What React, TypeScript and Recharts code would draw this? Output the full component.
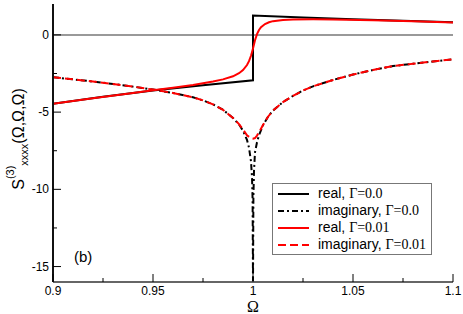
import { LineChart, Line, XAxis, YAxis, ReferenceLine, Legend } from "recharts";

// tick values
const xTicks = [0.9, 0.925, 0.95, 0.975, 1, 1.025, 1.05, 1.075, 1.1];
const xLabeled = [0.9, 0.95, 1, 1.05, 1.1];
const yTicks = [-15, -12.5, -10, -7.5, -5, -2.5, 0];
const yLabeled = [-15, -10, -5, 0];

// real part, Gamma = 0.0
const realG0X = [0.9, 0.925, 0.95, 0.975, 1, 1, 1.025, 1.05, 1.075, 1.1];
const realG0Y = [-4.46, -4.0, -3.6, -3.26, -2.94, 1.25, 1.12, 1.02, 0.91, 0.82];

// imaginary part, Gamma = 0.0
const imagG0X = [
  0.9, 0.91, 0.92, 0.93, 0.94, 0.95, 0.96, 0.97, 0.975, 0.98, 0.985, 0.99, 0.993, 0.995, 0.997, 0.998, 0.999,
  0.9995, 0.9998, 1, 1, 1.0002, 1.0005, 1.001, 1.002, 1.003, 1.005, 1.0075, 1.01, 1.015, 1.02, 1.025, 1.03,
  1.04, 1.05, 1.06, 1.07, 1.08, 1.09, 1.1,
];
const imagG0Y = [
  -2.74, -2.88, -3.02, -3.18, -3.35, -3.54, -3.76, -4.04, -4.24, -4.5, -4.85, -5.38, -5.8, -6.2, -6.8, -7.3, -8.2,
  -9.2, -10.7, -16, -16, -10.5, -8.8, -7.6, -6.95, -6.5, -5.85, -5.3, -4.9, -4.35, -3.95, -3.6, -3.33,
  -2.92, -2.57, -2.27, -2.02, -1.87, -1.72, -1.58,
];

// real part, Gamma = 0.01
const realG1X = [
  0.9, 0.92, 0.94, 0.95, 0.96, 0.97, 0.98, 0.985, 0.99, 0.993, 0.995, 0.997, 0.998, 0.999, 1, 1.001, 1.002,
  1.003, 1.004, 1.006, 1.008, 1.01, 1.015, 1.02, 1.03, 1.04, 1.06, 1.08, 1.1,
];
const realG1Y = [
  -4.46, -4.1, -3.76, -3.58, -3.42, -3.24, -3.02, -2.88, -2.68, -2.48, -2.28, -1.95, -1.7, -1.35, -0.88, -0.35, 0.05,
  0.32, 0.5, 0.7, 0.82, 0.89, 0.97, 1.0, 1.01, 1.0, 0.95, 0.88, 0.8,
];

// imaginary part, Gamma = 0.01
const imagG1X = [
  0.9, 0.91, 0.92, 0.93, 0.94, 0.95, 0.96, 0.97, 0.975, 0.98, 0.985, 0.99, 0.993, 0.995, 0.997, 0.999, 1, 1.001,
  1.002, 1.003, 1.005, 1.0075, 1.01, 1.015, 1.02, 1.025, 1.03, 1.04, 1.05, 1.06, 1.07, 1.08, 1.09, 1.1,
];
const imagG1Y = [
  -2.74, -2.88, -3.02, -3.18, -3.35, -3.54, -3.76, -4.04, -4.24, -4.5, -4.85, -5.38, -5.78, -6.12, -6.5, -6.7, -6.72,
  -6.68, -6.52, -6.3, -5.84, -5.3, -4.9, -4.35, -3.95, -3.6, -3.33, -2.92, -2.57, -2.27, -2.02, -1.87, -1.72, -1.58,
];

const zip = (xs: number[], ys: number[]) => xs.map((x, i) => ({ x, y: ys[i] }));

const series = [
  { key: "re0", label: "real, ", gamma: "Γ=0.0", data: zip(realG0X, realG0Y), color: "#000000", dash: undefined },
  { key: "im0", label: "imaginary, ", gamma: "Γ=0.0", data: zip(imagG0X, imagG0Y), color: "#000000", dash: "6 3 2 3" },
  { key: "re1", label: "real, ", gamma: "Γ=0.01", data: zip(realG1X, realG1Y), color: "#ff0000", dash: undefined },
  { key: "im1", label: "imaginary, ", gamma: "Γ=0.01", data: zip(imagG1X, imagG1Y), color: "#ff0000", dash: "8 4" },
];

const sans = "'Liberation Sans', Arial, sans-serif";
const serif = "'Liberation Serif', 'Times New Roman', serif";

function BottomTick({ x, y, payload }: any) {
  const major = xLabeled.includes(payload.value);
  return (
    <g>
      <line x1={x} x2={x} y1={y} y2={y - (major ? 8 : 4)} stroke="#000" strokeWidth={1} />
      {major && (
        <text x={x} y={y + 13} textAnchor="middle" fontSize={12} fontFamily={sans} fill="#000">
          {String(payload.value)}
        </text>
      )}
    </g>
  );
}

function TopTick({ x, y, payload }: any) {
  const major = xLabeled.includes(payload.value);
  return <line x1={x} x2={x} y1={y} y2={y + (major ? 8 : 4)} stroke="#000" strokeWidth={1} />;
}

function LeftTick({ x, y, payload }: any) {
  const major = yLabeled.includes(payload.value);
  return (
    <g>
      <line x1={x} x2={x + (major ? 8 : 4)} y1={y} y2={y} stroke="#000" strokeWidth={1} />
      {major && (
        <text x={x - 4} y={y + 4} textAnchor="end" fontSize={12} fontFamily={sans} fill="#000">
          {String(payload.value)}
        </text>
      )}
    </g>
  );
}

function RightTick({ x, y, payload }: any) {
  const major = yLabeled.includes(payload.value);
  return <line x1={x} x2={x - (major ? 8 : 4)} y1={y} y2={y} stroke="#000" strokeWidth={1} />;
}

function YLabel() {
  const cx = 24;
  const cy = 139;
  return (
    <text x={cx} y={cy} transform={`rotate(-90, ${cx}, ${cy})`} textAnchor="middle" fontFamily={sans} fill="#000">
      <tspan fontSize={16}>S</tspan>
      <tspan fontSize={11} dy={-10}>(3)</tspan>
      <tspan fontSize={11} dy={14}>xxxx</tspan>
      <tspan fontSize={16} dy={-4}>(Ω,Ω,Ω)</tspan>
    </text>
  );
}

function LegendBox() {
  return (
    <div
      style={{
        width: 160,
        height: 72,
        boxSizing: "border-box",
        border: "1px solid #777",
        background: "#fff",
        paddingTop: 1,
      }}
    >
      {series.map((s) => (
        <div key={s.key} style={{ display: "flex", alignItems: "center", height: 17 }}>
          <svg width={36} height={4} style={{ marginLeft: 5 }}>
            <line x1={0} x2={31} y1={2} y2={2} stroke={s.color} strokeWidth={2} strokeDasharray={s.dash} />
          </svg>
          <span style={{ marginLeft: 4, fontFamily: sans, fontSize: 14, color: "#000", whiteSpace: "nowrap" }}>
            {s.label}
            <span style={{ fontFamily: serif }}>{s.gamma}</span>
          </span>
        </div>
      ))}
    </div>
  );
}

export default function App() {
  return (
    <div style={{ position: "absolute", left: 0, top: 0, width: 463, height: 314, background: "#fff" }}>
      <LineChart width={463} height={314} margin={{ top: 4, right: 10, bottom: 0, left: 0 }}>
        <XAxis
          xAxisId={0}
          dataKey="x"
          type="number"
          domain={[0.9, 1.1]}
          ticks={xTicks}
          interval={0}
          allowDataOverflow
          height={32}
          tickSize={0}
          tickMargin={0}
          tickLine={false}
          tick={<BottomTick />}
          axisLine={{ stroke: "#666", strokeWidth: 2 }}
          label={{ value: "Ω", position: "insideBottom", offset: 2, fontSize: 16, fontFamily: serif, fill: "#000" }}
        />
        <XAxis
          xAxisId="top"
          orientation="top"
          dataKey="x"
          type="number"
          domain={[0.9, 1.1]}
          ticks={xTicks}
          interval={0}
          allowDataOverflow
          height={0}
          tickSize={0}
          tickMargin={0}
          tickLine={false}
          tick={<TopTick />}
          axisLine={{ stroke: "#888", strokeWidth: 2 }}
        />
        <YAxis
          yAxisId={0}
          type="number"
          domain={[-16, 2]}
          ticks={yTicks}
          interval={0}
          allowDataOverflow
          width={53}
          tickSize={0}
          tickMargin={0}
          tickLine={false}
          tick={<LeftTick />}
          axisLine={{ stroke: "#111", strokeWidth: 2 }}
          label={<YLabel />}
        />
        <YAxis
          yAxisId="right"
          orientation="right"
          type="number"
          domain={[-16, 2]}
          ticks={yTicks}
          interval={0}
          allowDataOverflow
          width={0}
          tickSize={0}
          tickMargin={0}
          tickLine={false}
          tick={<RightTick />}
          axisLine={{ stroke: "#111", strokeWidth: 2 }}
        />
        <ReferenceLine y={0} stroke="#999" strokeWidth={2} />
        {series.map((s) => (
          <Line
            key={s.key}
            data={s.data}
            dataKey="y"
            type="linear"
            stroke={s.color}
            strokeWidth={2}
            strokeDasharray={s.dash}
            dot={false}
            activeDot={false}
            isAnimationActive={false}
          />
        ))}
        <Legend
          layout="vertical"
          align="center"
          verticalAlign="middle"
          wrapperStyle={{ left: 272, top: 183, width: 160, height: 72 }}
          content={<LegendBox />}
        />
      </LineChart>
      <div
        style={{
          position: "absolute",
          left: 74,
          top: 248,
          fontFamily: sans,
          fontSize: 15,
          lineHeight: "18px",
          color: "#000",
        }}
      >
        (b)
      </div>
    </div>
  );
}
